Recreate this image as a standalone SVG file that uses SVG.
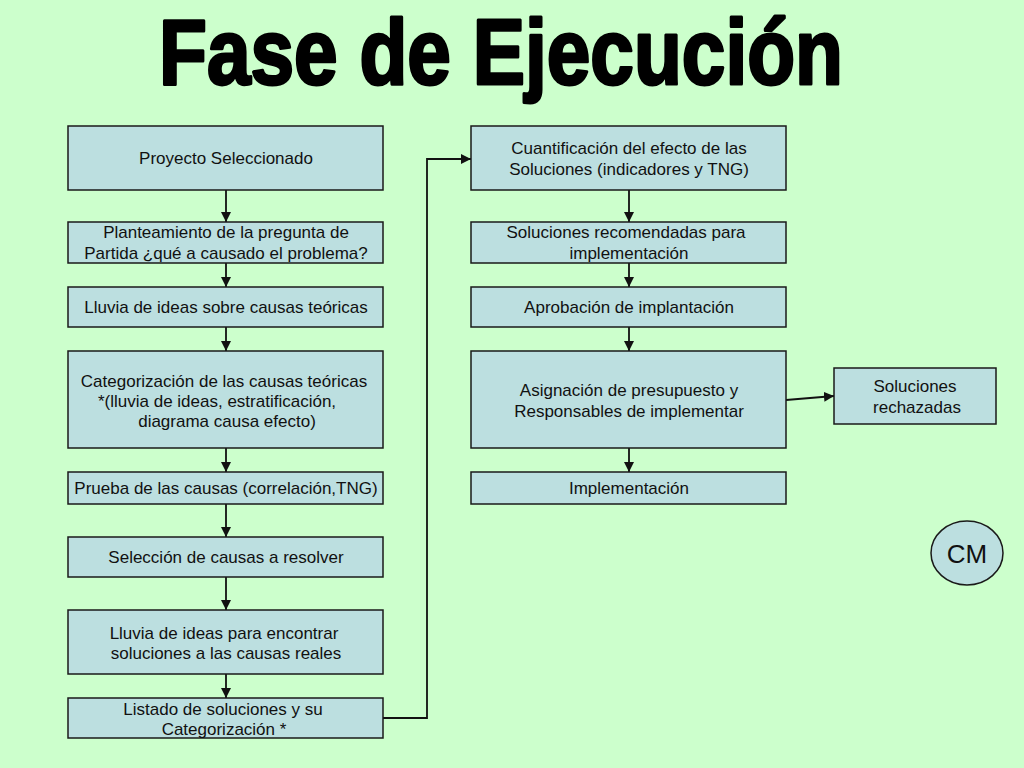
<svg xmlns="http://www.w3.org/2000/svg" width="1024" height="768" viewBox="0 0 1024 768">
<defs>
<style>
.box{fill:#BCDFE0;stroke:#1a1a1a;stroke-width:1.5}
.t{font-family:"Liberation Sans",Arial,sans-serif;font-size:17px;fill:#111;text-anchor:middle}
.c{fill:none;stroke:#111;stroke-width:1.8}
</style>
<marker id="ah" viewBox="0 0 10 10" refX="10" refY="5" markerWidth="10" markerHeight="10" markerUnits="userSpaceOnUse" orient="auto">
<path d="M0,0 L10,5 L0,10 z" fill="#111"/>
</marker>
</defs>
<rect width="1024" height="768" fill="#CCFFCC"/>
<text x="501" y="84" font-family="'Liberation Sans',Arial,sans-serif" font-weight="bold" font-size="93" textLength="684" lengthAdjust="spacingAndGlyphs" text-anchor="middle" fill="#000" stroke="#000" stroke-width="3" stroke-linejoin="round">Fase de Ejecución</text>

<g id="connectors">
<line class="c" x1="226" y1="190" x2="226" y2="222" marker-end="url(#ah)"/>
<line class="c" x1="226" y1="263" x2="226" y2="287" marker-end="url(#ah)"/>
<line class="c" x1="226" y1="327" x2="226" y2="351" marker-end="url(#ah)"/>
<line class="c" x1="226" y1="448" x2="226" y2="472" marker-end="url(#ah)"/>
<line class="c" x1="226" y1="504" x2="226" y2="537" marker-end="url(#ah)"/>
<line class="c" x1="226" y1="577" x2="226" y2="610" marker-end="url(#ah)"/>
<line class="c" x1="226" y1="674" x2="226" y2="698" marker-end="url(#ah)"/>
<polyline class="c" points="383,718 427,718 427,159 471,159" marker-end="url(#ah)"/>
<line class="c" x1="629" y1="190" x2="629" y2="222" marker-end="url(#ah)"/>
<line class="c" x1="629" y1="263" x2="629" y2="287" marker-end="url(#ah)"/>
<line class="c" x1="629" y1="327" x2="629" y2="351" marker-end="url(#ah)"/>
<line class="c" x1="629" y1="448" x2="629" y2="472" marker-end="url(#ah)"/>
<line class="c" x1="786" y1="400" x2="834" y2="396" marker-end="url(#ah)"/>
</g>

<g id="n1"><rect class="box" x="68" y="126" width="315" height="64"/><text class="t" x="226" y="164">Proyecto Seleccionado</text></g>
<g id="n2"><rect class="box" x="68" y="222" width="315" height="41"/><text class="t" x="226" y="238">Planteamiento de la pregunta de</text><text class="t" x="226" y="259">Partida ¿qué a causado el problema?</text></g>
<g id="n3"><rect class="box" x="68" y="287" width="315" height="40"/><text class="t" x="226" y="313">Lluvia de ideas sobre causas teóricas</text></g>
<g id="n4"><rect class="box" x="68" y="351" width="315" height="97"/><text class="t" x="224" y="387">Categorización de las causas teóricas</text><text class="t" x="217" y="407">*(lluvia de ideas, estratificación,</text><text class="t" x="227" y="427">diagrama causa efecto)</text></g>
<g id="n5"><rect class="box" x="68" y="472" width="315" height="32"/><text class="t" x="226" y="494">Prueba de las causas (correlación,TNG)</text></g>
<g id="n6"><rect class="box" x="68" y="537" width="315" height="40"/><text class="t" x="226" y="563">Selección de causas a resolver</text></g>
<g id="n7"><rect class="box" x="68" y="610" width="315" height="64"/><text class="t" x="224" y="639">Lluvia de ideas para encontrar</text><text class="t" x="226" y="659">soluciones a las causas reales</text></g>
<g id="n8"><rect class="box" x="68" y="698" width="315" height="40"/><text class="t" x="223" y="715">Listado de soluciones y su</text><text class="t" x="224" y="735">Categorización *</text></g>

<g id="m1"><rect class="box" x="471" y="126" width="315" height="64"/><text class="t" x="629" y="154">Cuantificación del efecto de las</text><text class="t" x="629" y="175">Soluciones (indicadores y TNG)</text></g>
<g id="m2"><rect class="box" x="471" y="222" width="315" height="41"/><text class="t" x="626" y="238">Soluciones recomendadas para</text><text class="t" x="629" y="259">implementación</text></g>
<g id="m3"><rect class="box" x="471" y="287" width="315" height="40"/><text class="t" x="629" y="313">Aprobación de implantación</text></g>
<g id="m4"><rect class="box" x="471" y="351" width="315" height="97"/><text class="t" x="629" y="396">Asignación de presupuesto y</text><text class="t" x="629" y="417">Responsables de implementar</text></g>
<g id="m5"><rect class="box" x="471" y="472" width="315" height="32"/><text class="t" x="629" y="494">Implementación</text></g>
<g id="rech"><rect class="box" x="834" y="368" width="162" height="56"/><text class="t" x="915" y="392">Soluciones</text><text class="t" x="917" y="413">rechazadas</text></g>
<g id="cm"><ellipse class="box" cx="967" cy="553" rx="36" ry="32"/><text x="967" y="563" font-family="'Liberation Sans',Arial,sans-serif" font-size="26" text-anchor="middle" fill="#111">CM</text></g>
</svg>
